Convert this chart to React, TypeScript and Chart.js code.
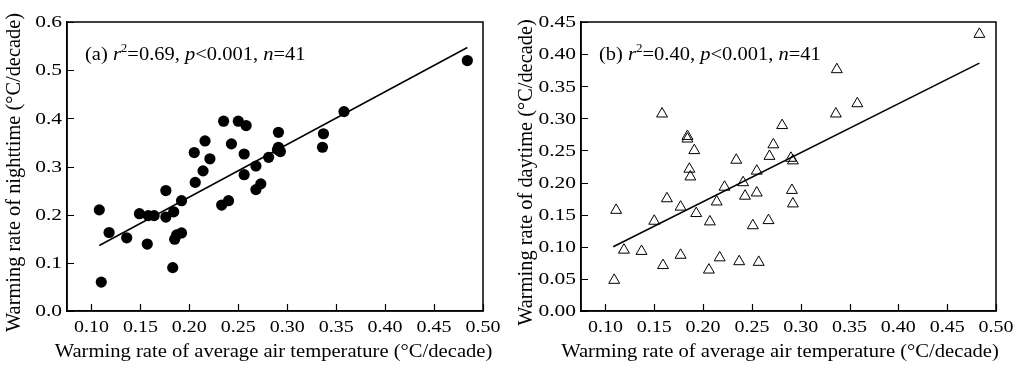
import React, { useEffect, useRef } from 'react';
import { Chart, registerables } from 'chart.js';

Chart.register(...registerables);

const SERIF = '"Liberation Serif", "Times New Roman", serif';

// Tick labels
const xTickValues = [0.1, 0.15, 0.2, 0.25, 0.3, 0.35, 0.4, 0.45, 0.5];
const nightTickValues = [0, 0.1, 0.2, 0.3, 0.4, 0.5, 0.6];
const dayTickValues = [0, 0.05, 0.1, 0.15, 0.2, 0.25, 0.3, 0.35, 0.4, 0.45];

// (a) warming rate of average air temperature vs nighttime
const nightAvg = [
  0.108, 0.11, 0.118, 0.136, 0.149, 0.157, 0.158, 0.164, 0.176, 0.176,
  0.184, 0.183, 0.185, 0.187, 0.192, 0.192, 0.205, 0.206, 0.214, 0.221,
  0.216, 0.233, 0.24, 0.235, 0.243, 0.25, 0.258, 0.256, 0.256, 0.268,
  0.273, 0.268, 0.281, 0.291, 0.291, 0.29, 0.293, 0.336, 0.337, 0.358,
  0.484,
];
const nightRate = [
  0.21, 0.06, 0.163, 0.152, 0.202, 0.139, 0.198, 0.198, 0.25, 0.195,
  0.206, 0.09, 0.149, 0.158, 0.162, 0.229, 0.329, 0.267, 0.291, 0.316,
  0.353, 0.22, 0.229, 0.394, 0.347, 0.394, 0.385, 0.326, 0.283, 0.252,
  0.264, 0.301, 0.319, 0.371, 0.34, 0.335, 0.331, 0.34, 0.368, 0.414,
  0.52,
];

// (b) warming rate of average air temperature vs daytime
const dayAvg = [
  0.109, 0.111, 0.119, 0.137, 0.15, 0.158, 0.159, 0.163, 0.177, 0.177,
  0.184, 0.184, 0.186, 0.187, 0.191, 0.193, 0.206, 0.207, 0.214, 0.217,
  0.222, 0.234, 0.237, 0.241, 0.243, 0.251, 0.255, 0.255, 0.257, 0.267,
  0.268, 0.272, 0.281, 0.29, 0.292, 0.291, 0.292, 0.336, 0.337, 0.358,
  0.483,
];
const dayRate = [
  0.048, 0.157, 0.095, 0.093, 0.14, 0.307, 0.071, 0.175, 0.162, 0.087,
  0.272, 0.268, 0.221, 0.209, 0.25, 0.152, 0.064, 0.139, 0.17, 0.083,
  0.193, 0.235, 0.077, 0.2, 0.179, 0.133, 0.218, 0.184, 0.076, 0.141,
  0.241, 0.259, 0.289, 0.238, 0.234, 0.188, 0.167, 0.307, 0.376, 0.323,
  0.431,
];

// Linear fits (end points)
const nightFitX = [0.108, 0.484];
const nightFitY = [0.136, 0.547];
const dayFitX = [0.108, 0.483];
const dayFitY = [0.1, 0.386];

const X_TITLE = 'Warming rate of average air temperature (°C/decade)';

type Seg = { t: string; s: 'n' | 'i' | 'sup' };

function drawText(
  ctx: CanvasRenderingContext2D,
  text: string,
  x: number,
  y: number,
  font: string,
  align: CanvasTextAlign,
  sy: number,
  rotate = 0,
) {
  ctx.save();
  ctx.translate(x, y);
  if (rotate) ctx.rotate(rotate);
  ctx.scale(1, sy);
  ctx.font = font;
  ctx.textAlign = align;
  ctx.fillText(text, 0, 0);
  ctx.restore();
}

const framePlugin = {
  id: 'frame',
  afterDraw(chart: any, _args: any, opts: any) {
    const { ctx, chartArea } = chart;
    const { left, right, top, bottom } = chartArea;
    ctx.save();
    ctx.strokeStyle = '#000';
    ctx.fillStyle = '#000';
    ctx.lineWidth = 1.5;
    ctx.strokeRect(left, top, right - left, bottom - top);
    const xs = chart.scales.x;
    const ys = chart.scales.y;
    ctx.lineWidth = 1.2;
    ctx.beginPath();
    xs.ticks.forEach((t: any) => {
      const px = Math.round(xs.getPixelForValue(t.value)) + 0.5;
      ctx.moveTo(px, bottom);
      ctx.lineTo(px, bottom - 7);
    });
    ys.ticks.forEach((t: any) => {
      const py = Math.round(ys.getPixelForValue(t.value)) + 0.5;
      ctx.moveTo(left, py);
      ctx.lineTo(left + 7, py);
    });
    ctx.stroke();
    ctx.textBaseline = 'alphabetic';

    // tick labels
    xs.ticks.forEach((t: any) => {
      const px = xs.getPixelForValue(t.value);
      drawText(ctx, Number(t.value).toFixed(2), px, 332, `20px ${SERIF}`, 'center', 0.88);
    });
    ys.ticks.forEach((t: any) => {
      const py = ys.getPixelForValue(t.value);
      drawText(ctx, Number(t.value).toFixed(opts.yDigits), left - 5, py + 5.3, `21.5px ${SERIF}`, 'right', 0.78);
    });

    // axis titles
    drawText(ctx, X_TITLE, (left + right) / 2 + opts.xShift, 357, `20.6px ${SERIF}`, 'center', 0.9);
    ctx.textBaseline = 'middle';
    drawText(ctx, opts.yTitle, 15, (top + bottom) / 2 + 6, `20.4px ${SERIF}`, 'center', 1, -Math.PI / 2);
    ctx.textBaseline = 'alphabetic';

    // annotation
    const segs: Seg[] = opts.label || [];
    let x = left + 18;
    const y = 60;
    segs.forEach((sg) => {
      ctx.save();
      ctx.translate(x, y);
      ctx.scale(1, 0.92);
      if (sg.s === 'sup') {
        ctx.font = `13px ${SERIF}`;
        ctx.fillText(sg.t, 0, -8.5);
      } else {
        ctx.font = `${sg.s === 'i' ? 'italic ' : ''}20.5px ${SERIF}`;
        ctx.fillText(sg.t, 0, 0);
      }
      const w = ctx.measureText(sg.t).width;
      ctx.restore();
      x += w;
    });
    ctx.restore();
  },
};

type PanelProps = {
  tag: string;
  r2: string;
  xs: number[];
  ys: number[];
  fitX: number[];
  fitY: number[];
  yTicks: number[];
  yMax: number;
  yDigits: number;
  yTitle: string;
  triangle: boolean;
  axisWidth: number;
  padRight: number;
  xShift: number;
};

function Panel(p: PanelProps) {
  const ref = useRef<HTMLCanvasElement | null>(null);
  useEffect(() => {
    if (!ref.current) return;
    const points = p.xs.map((x, i) => ({ x, y: p.ys[i] }));
    const fit = p.fitX.map((x, i) => ({ x, y: p.fitY[i] }));
    const label: Seg[] = [
      { t: `(${p.tag}) `, s: 'n' },
      { t: 'r', s: 'i' },
      { t: '2', s: 'sup' },
      { t: `=${p.r2}, `, s: 'n' },
      { t: 'p', s: 'i' },
      { t: '<0.001, ', s: 'n' },
      { t: 'n', s: 'i' },
      { t: '=41', s: 'n' },
    ];
    const chart = new Chart(ref.current, {
      type: 'scatter',
      data: {
        datasets: [
          {
            data: fit,
            showLine: true,
            borderColor: '#000',
            borderWidth: 1.5,
            pointRadius: 0,
            fill: false,
          } as any,
          {
            data: points,
            showLine: false,
            pointStyle: p.triangle ? 'triangle' : 'circle',
            pointRadius: p.triangle ? 6.3 : 5.6,
            pointBackgroundColor: p.triangle ? 'rgba(0,0,0,0)' : '#000',
            pointBorderColor: '#000',
            pointBorderWidth: p.triangle ? 1 : 0,
          } as any,
        ],
      },
      options: {
        animation: false,
        responsive: false,
        events: [],
        layout: { padding: { top: 22, right: p.padRight, left: 0, bottom: 0 } },
        plugins: {
          legend: { display: false },
          tooltip: { enabled: false },
          frame: { label, yDigits: p.yDigits, yTitle: p.yTitle, xShift: p.xShift },
        } as any,
        scales: {
          x: {
            type: 'linear',
            min: 0.075,
            max: 0.5,
            afterBuildTicks: (s: any) => {
              s.ticks = xTickValues.map((v) => ({ value: v }));
            },
            afterFit: (s: any) => {
              s.height = 60;
            },
            grid: { display: false },
            border: { display: true, color: '#000', width: 1.5 },
            ticks: { display: false },
            title: { display: false, text: X_TITLE },
          },
          y: {
            type: 'linear',
            min: 0,
            max: p.yMax,
            afterBuildTicks: (s: any) => {
              s.ticks = p.yTicks.map((v) => ({ value: v }));
            },
            afterFit: (s: any) => {
              s.width = p.axisWidth;
            },
            grid: { display: false },
            border: { display: true, color: '#000', width: 1.5 },
            ticks: { display: false },
            title: { display: false, text: p.yTitle },
          },
        },
      } as any,
      plugins: [framePlugin as any],
    });
    return () => chart.destroy();
  }, []);
  return <canvas ref={ref} width={512} height={371} style={{ display: 'block' }} />;
}

export default function App() {
  return (
    <div
      style={{
        position: 'fixed',
        left: 0,
        top: 0,
        width: 1024,
        height: 371,
        background: '#fff',
        display: 'flex',
      }}
    >
      <Panel
        tag="a"
        r2="0.69"
        xs={nightAvg}
        ys={nightRate}
        fitX={nightFitX}
        fitY={nightFitY}
        yTicks={nightTickValues}
        yMax={0.6}
        yDigits={1}
        yTitle="Warming rate of nighttime (°C/decade)"
        triangle={false}
        axisWidth={67}
        padRight={29}
        xShift={-1.5}
      />
      <Panel
        tag="b"
        r2="0.40"
        xs={dayAvg}
        ys={dayRate}
        fitX={dayFitX}
        fitY={dayFitY}
        yTicks={dayTickValues}
        yMax={0.45}
        yDigits={2}
        yTitle="Warming rate of daytime (°C/decade)"
        triangle={true}
        axisWidth={69}
        padRight={28}
        xShift={-8.5}
      />
    </div>
  );
}
